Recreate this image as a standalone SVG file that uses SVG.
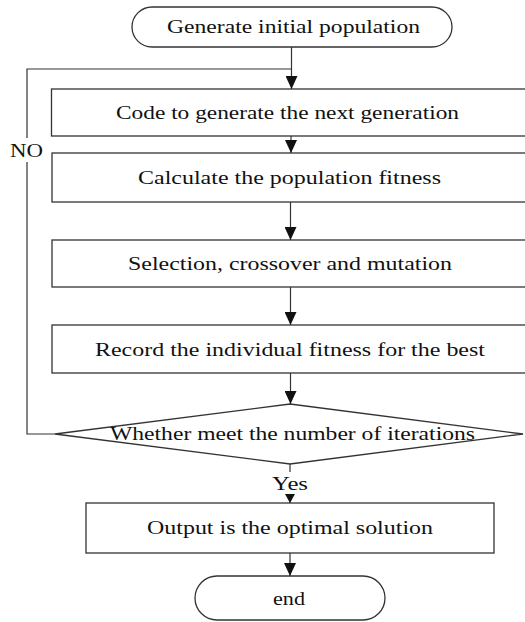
<svg xmlns="http://www.w3.org/2000/svg" width="525" height="622" viewBox="0 0 525 622">
<style>
.s{fill:#fff;stroke:#333;stroke-width:1.3}
.c{fill:none;stroke:#333;stroke-width:1.2}
.t{font-family:"Liberation Serif","Times New Roman",serif;font-size:18.5px;fill:#111;text-anchor:middle}
</style>
<defs>
<marker id="ah" markerUnits="userSpaceOnUse" markerWidth="14" markerHeight="12" refX="13" refY="6" orient="auto">
<path d="M0,0 L13,6 L0,12 Z" fill="#111"/>
</marker>
<marker id="ahs" markerUnits="userSpaceOnUse" markerWidth="10" markerHeight="10" refX="9" refY="5" orient="auto">
<path d="M0,0 L9,5 L0,10 Z" fill="#111"/>
</marker>
</defs>
<g id="connectors">
<line class="c" x1="291.5" y1="47" x2="291.5" y2="89" marker-end="url(#ah)"/>
<polyline class="c" points="55,434 27,434 27,69 291.5,69"/>
<line class="c" x1="291" y1="136" x2="291" y2="153" marker-end="url(#ah)"/>
<line class="c" x1="290.5" y1="202" x2="290.5" y2="240" marker-end="url(#ah)"/>
<line class="c" x1="290.5" y1="287" x2="290.5" y2="325" marker-end="url(#ah)"/>
<line class="c" x1="290.5" y1="373" x2="290.5" y2="404" marker-end="url(#ah)"/>
<line class="c" x1="290" y1="464" x2="290" y2="472"/>
<line class="c" x1="290" y1="494" x2="290" y2="503" marker-end="url(#ahs)"/>
<line class="c" x1="290" y1="553" x2="290" y2="576" marker-end="url(#ah)"/>
<rect x="8" y="138" width="38" height="24" fill="#fff"/>
<text class="t" x="26.5" y="157" textLength="33" lengthAdjust="spacingAndGlyphs">NO</text>
<text class="t" x="290" y="490" textLength="36" lengthAdjust="spacingAndGlyphs">Yes</text>
</g>
<g id="start">
<rect class="s" x="132" y="7" width="320" height="40" rx="20" ry="20"/>
<text class="t" x="293.5" y="33" textLength="253" lengthAdjust="spacingAndGlyphs">Generate initial population</text>
</g>
<g id="code">
<rect class="s" x="51.5" y="89" width="485" height="47"/>
<text class="t" x="287.5" y="118.5" textLength="343" lengthAdjust="spacingAndGlyphs">Code to generate the next generation</text>
</g>
<g id="calc">
<rect class="s" x="52" y="153" width="485" height="49"/>
<text class="t" x="289.5" y="184" textLength="303" lengthAdjust="spacingAndGlyphs">Calculate the population fitness</text>
</g>
<g id="select">
<rect class="s" x="52" y="240" width="485" height="47"/>
<text class="t" x="290" y="270" textLength="324" lengthAdjust="spacingAndGlyphs">Selection, crossover and mutation</text>
</g>
<g id="record">
<rect class="s" x="52" y="325" width="485" height="48"/>
<text class="t" x="290" y="356" textLength="390" lengthAdjust="spacingAndGlyphs">Record the individual fitness for the best</text>
</g>
<g id="decision">
<polygon class="s" points="290,404 523,434 290,464 55,434"/>
<text class="t" x="292.5" y="440" textLength="365" lengthAdjust="spacingAndGlyphs">Whether meet the number of iterations</text>
</g>
<g id="output">
<rect class="s" x="86" y="503" width="408" height="50"/>
<text class="t" x="290" y="534" textLength="286" lengthAdjust="spacingAndGlyphs">Output is the optimal solution</text>
</g>
<g id="end">
<rect class="s" x="195" y="576" width="190" height="44" rx="22" ry="22"/>
<text class="t" x="289" y="605" textLength="32" lengthAdjust="spacingAndGlyphs">end</text>
</g>
</svg>
